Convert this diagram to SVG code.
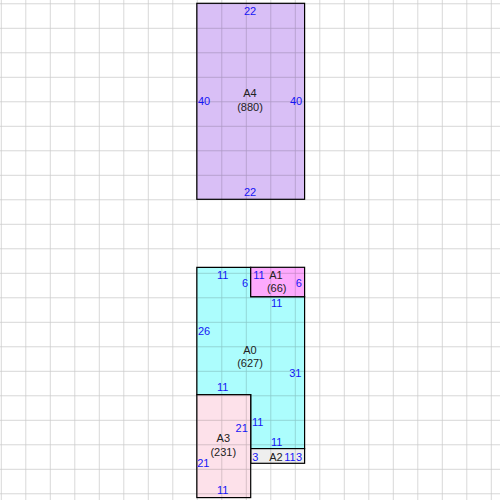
<svg xmlns="http://www.w3.org/2000/svg" width="500" height="500" viewBox="0 0 500 500">
<defs>
<pattern id="grid" x="0.8" y="3.3" width="24.5" height="24.5" patternUnits="userSpaceOnUse">
<path d="M0 0H24.5M0 0V24.5" fill="none" stroke="#000" stroke-opacity="0.21" stroke-width="1.4"/>
</pattern>
</defs>
<style>
.shape{stroke:#000;stroke-width:1.2}
.lbl{font-family:"Liberation Sans",Arial,sans-serif;font-size:11px;fill:#1515f5;text-anchor:middle}
.name{font-family:"Liberation Sans",Arial,sans-serif;font-size:11px;fill:#222;text-anchor:middle}
</style>
<rect width="500" height="500" fill="#fff"/>
<rect id="background-grid" width="500" height="500" fill="url(#grid)"/>
<g id="A4">
<rect x="196.8" y="3.3" width="107.8" height="196" fill="#d9bff6"/>
<rect x="196.8" y="3.3" width="107.8" height="196" fill="url(#grid)"/>
<rect class="shape" x="196.8" y="3.3" width="107.8" height="196" fill="none"/>
<text class="lbl" x="250" y="14.5">22</text>
<text class="lbl" x="204" y="105">40</text>
<text class="lbl" x="296" y="105">40</text>
<text class="lbl" x="250" y="196">22</text>
<text class="name" x="250" y="97">A4</text>
<text class="name" x="250" y="111">(880)</text>
</g>
<g id="A0">
<path d="M196.8 267.3H250.7V296.7H304.6V448.6H250.7V394.7H196.8Z" fill="#acfdfd"/>
<path d="M196.8 267.3H250.7V296.7H304.6V448.6H250.7V394.7H196.8Z" fill="url(#grid)"/>
<path class="shape" d="M196.8 267.3H250.7V296.7H304.6V448.6H250.7V394.7H196.8Z" fill="none"/>
<text class="lbl" x="222.7" y="278.5">11</text>
<text class="lbl" x="245" y="286.5">6</text>
<text class="lbl" x="276.7" y="307">11</text>
<text class="lbl" x="204" y="335">26</text>
<text class="lbl" x="295.3" y="377">31</text>
<text class="lbl" x="222.7" y="390.5">11</text>
<text class="lbl" x="257.7" y="426">11</text>
<text class="lbl" x="276.7" y="445.5">11</text>
<text class="name" x="250" y="354">A0</text>
<text class="name" x="250" y="366.5">(627)</text>
</g>
<g id="A1">
<rect x="250.7" y="267.3" width="53.9" height="29.4" fill="#fdaafd"/>
<rect x="250.7" y="267.3" width="53.9" height="29.4" fill="url(#grid)"/>
<rect class="shape" x="250.7" y="267.3" width="53.9" height="29.4" fill="none"/>
<text class="lbl" x="259" y="278.5">11</text>
<text class="lbl" x="298.7" y="286.5">6</text>
<text class="name" x="276" y="278.5">A1</text>
<text class="name" x="276.7" y="292">(66)</text>
</g>
<g id="A2">
<rect x="250.7" y="448.6" width="53.9" height="14.7" fill="#eeeeee"/>
<rect x="250.7" y="448.6" width="53.9" height="14.7" fill="url(#grid)"/>
<rect class="shape" x="250.7" y="448.6" width="53.9" height="14.7" fill="none"/>
<text class="lbl" x="255.3" y="460.5">3</text>
<text class="lbl" x="290" y="461">11</text>
<text class="lbl" x="299" y="460.5">3</text>
<text class="name" x="276" y="460.5">A2</text>
</g>
<g id="A3">
<rect x="196.8" y="394.7" width="53.9" height="102.9" fill="#fde1ea"/>
<rect x="196.8" y="394.7" width="53.9" height="102.9" fill="url(#grid)"/>
<rect class="shape" x="196.8" y="394.7" width="53.9" height="102.9" fill="none"/>
<text class="lbl" x="241.7" y="432">21</text>
<text class="lbl" x="203.3" y="467">21</text>
<text class="lbl" x="222.7" y="494">11</text>
<text class="name" x="223.3" y="442">A3</text>
<text class="name" x="223.3" y="455.5">(231)</text>
</g>
<g id="connectors"/>
</svg>
